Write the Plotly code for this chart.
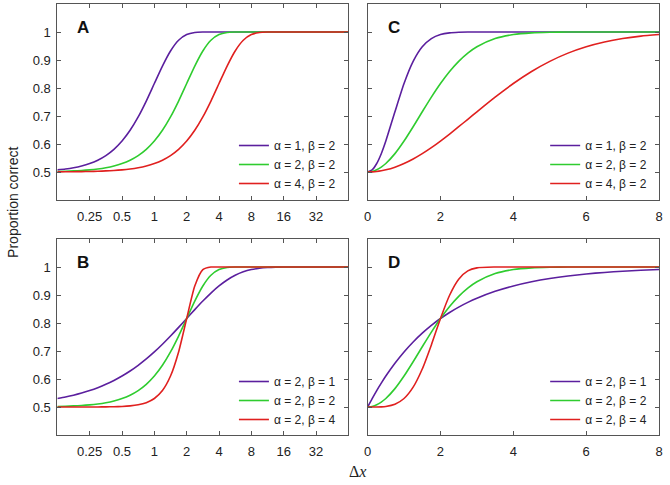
import plotly.graph_objects as go

# ---------------- data ----------------
# Log-scaled panels (A, B): x positions
x_log = [0.125, 0.14865, 0.17678, 0.21022, 0.25, 0.2973, 0.35355, 0.42045, 0.5, 0.5946,
         0.70711, 0.8409, 1.0, 1.18921, 1.41421, 1.68179, 2.0, 2.37841, 2.82843, 3.36359,
         4.0, 4.75683, 5.65685, 6.72717, 8.0, 9.51366, 11.3137, 13.4543, 16.0, 32.0, 64.0]

# Panel A
a_a1b2 = [0.50775, 0.51093, 0.51538, 0.52162, 0.5303, 0.5423, 0.55875, 0.58102, 0.6106,
          0.6489, 0.69673, 0.75347, 0.81606, 0.87844, 0.93233, 0.97044, 0.99084, 0.99825,
          0.99983, 1.0, 1.0, 1.0, 1.0, 1.0, 1.0, 1.0, 1.0, 1.0, 1.0, 1.0, 1.0]
a_a2b2 = [0.50195, 0.50275, 0.50389, 0.5055, 0.50775, 0.51093, 0.51538, 0.52162, 0.5303,
          0.5423, 0.55875, 0.58102, 0.6106, 0.6489, 0.69673, 0.75347, 0.81606, 0.87844,
          0.93233, 0.97044, 0.99084, 0.99825, 0.99983, 1.0, 1.0, 1.0, 1.0, 1.0, 1.0, 1.0, 1.0]
a_a4b2 = [0.50049, 0.50069, 0.50098, 0.50138, 0.50195, 0.50275, 0.50389, 0.5055, 0.50775,
          0.51093, 0.51538, 0.52162, 0.5303, 0.5423, 0.55875, 0.58102, 0.6106, 0.6489,
          0.69673, 0.75347, 0.81606, 0.87844, 0.93233, 0.97044, 0.99084, 0.99825, 0.99983,
          1.0, 1.0, 1.0, 1.0]

# Panel B
b_a2b1 = [0.5303, 0.53581, 0.5423, 0.54989, 0.55875, 0.56906, 0.58102, 0.59481, 0.6106,
          0.62858, 0.6489, 0.67162, 0.69673, 0.72412, 0.75347, 0.78434, 0.81606, 0.84777,
          0.87844, 0.90698, 0.93233, 0.95365, 0.97044, 0.9827, 0.99084, 0.99571, 0.99825,
          0.9994, 0.99983, 1.0, 1.0]
b_a2b2 = a_a2b2
b_a2b4 = [0.50001, 0.50002, 0.50003, 0.50006, 0.50012, 0.50024, 0.50049, 0.50098, 0.50195,
          0.50389, 0.50775, 0.51538, 0.5303, 0.55875, 0.6106, 0.69673, 0.81606, 0.93233,
          0.99084, 0.99983, 1.0, 1.0, 1.0, 1.0, 1.0, 1.0, 1.0, 1.0, 1.0, 1.0, 1.0]

# Linear panels (C, D): x positions
x_lin = [0, 0.125, 0.25, 0.375, 0.5, 0.75, 1, 1.25, 1.5, 1.75, 2, 2.25, 2.5, 2.75, 3,
         3.5, 4, 4.5, 5, 5.5, 6, 6.5, 7, 7.5, 8]

# Panel C
c_a1b2 = [0.5, 0.5078, 0.5303, 0.5654, 0.6106, 0.71511, 0.81606, 0.8952, 0.9473, 0.97661,
          0.99084, 0.99684, 0.99903, 0.99974, 0.99994, 1.0, 1.0, 1.0, 1.0, 1.0, 1.0, 1.0,
          1.0, 1.0, 1.0]
c_a2b2 = [0.5, 0.50195, 0.50775, 0.51738, 0.5303, 0.56559, 0.6106, 0.66169, 0.71511,
          0.76748, 0.81606, 0.85897, 0.8952, 0.92452, 0.9473, 0.97661, 0.99084, 0.99684,
          0.99903, 0.99974, 0.99994, 1.0, 1.0, 1.0, 1.0]
c_a4b2 = [0.5, 0.50049, 0.50195, 0.50439, 0.50775, 0.51727, 0.5303, 0.54652, 0.56559,
          0.5871, 0.6106, 0.63561, 0.66169, 0.68833, 0.71511, 0.76748, 0.81606, 0.85897,
          0.8952, 0.92452, 0.9473, 0.96435, 0.97661, 0.98513, 0.99084]

# Panel D
d_a2b1 = [0.5, 0.5303, 0.55875, 0.58526, 0.6106, 0.65635, 0.69673, 0.73237, 0.76382,
          0.79157, 0.81606, 0.83768, 0.85675, 0.87358, 0.88843, 0.91311, 0.93233, 0.9473,
          0.95896, 0.96804, 0.97511, 0.98061, 0.9849, 0.98824, 0.99084]
d_a2b2 = c_a2b2
d_a2b4 = [0.5, 0.5, 0.50012, 0.50062, 0.50195, 0.50979, 0.5303, 0.57076, 0.63561,
          0.72177, 0.81606, 0.89923, 0.95649, 0.98599, 0.99684, 0.99996, 1.0, 1.0, 1.0,
          1.0, 1.0, 1.0, 1.0, 1.0, 1.0]

log_tickvals = [0.25, 0.5, 1, 2, 4, 8, 16, 32]
log_ticktext = ["0.25", "0.5", "1", "2", "4", "8", "16", "32"]
lin_tickvals = [0, 2, 4, 6, 8]
y_tickvals = [0.5, 0.6, 0.7, 0.8, 0.9, 1.0]
y_ticktext = ["0.5", "0.6", "0.7", "0.8", "0.9", "1"]

names_top = ["α = 1, β = 2", "α = 2, β = 2", "α = 4, β = 2"]
names_bot = ["α = 2, β = 1", "α = 2, β = 2", "α = 2, β = 4"]
panel_letters = ["A", "C", "B", "D"]

# ---------------- styling ----------------
W, H = 670, 485
PURPLE, GREEN, RED = "#5b1f9e", "#2fcc2f", "#e0201f"
colors = [PURPLE, GREEN, RED]
FRAME = "#555555"
FONT = "Liberation Sans, Arial, Helvetica, sans-serif"

def px_x(p):
    return p / W

def px_y(p):
    return 1 - p / H

xdom_left = [px_x(54), px_x(348.5)]
xdom_right = [px_x(368), px_x(663)]
ydom_top = [px_y(200), px_y(4)]
ydom_bot = [px_y(435), px_y(239)]

fig = go.Figure()

panels = [
    ("x", "y", x_log, [a_a1b2, a_a2b2, a_a4b2], names_top, "legend"),
    ("x2", "y2", x_lin, [c_a1b2, c_a2b2, c_a4b2], names_top, "legend2"),
    ("x3", "y3", x_log, [b_a2b1, b_a2b2, b_a2b4], names_bot, "legend3"),
    ("x4", "y4", x_lin, [d_a2b1, d_a2b2, d_a2b4], names_bot, "legend4"),
]

for xa, ya, xs, series, names, lg in panels:
    for ys, nm, col in zip(series, names, colors):
        fig.add_trace(go.Scatter(
            x=xs, y=ys, mode="lines", name=nm,
            line=dict(color=col, width=1.6, shape="spline", smoothing=0.6),
            xaxis=xa, yaxis=ya, legend=lg, showlegend=True,
        ))

axis_common = dict(
    showline=True, linecolor=FRAME, linewidth=1, mirror="allticks",
    ticks="inside", ticklen=4, tickcolor=FRAME, tickwidth=1,
    showgrid=False, zeroline=False,
    tickfont=dict(family=FONT, size=13, color="#222222"),
)

layout = dict(
    width=W, height=H,
    margin=dict(l=0, r=0, t=0, b=0),
    paper_bgcolor="white", plot_bgcolor="white",
    font=dict(family=FONT, size=13, color="#222222"),
)

layout["xaxis"] = dict(axis_common, domain=xdom_left, anchor="y", type="log",
                       range=[-0.90309, 1.80618], tickvals=log_tickvals, ticktext=log_ticktext,
                       ticklabelstandoff=4)
layout["xaxis2"] = dict(axis_common, domain=xdom_right, anchor="y2",
                        range=[0, 8], tickvals=lin_tickvals, ticklabelstandoff=4)
layout["xaxis3"] = dict(axis_common, domain=xdom_left, anchor="y3", type="log",
                        range=[-0.90309, 1.80618], tickvals=log_tickvals, ticktext=log_ticktext,
                        ticklabelstandoff=4)
layout["xaxis4"] = dict(axis_common, domain=xdom_right, anchor="y4",
                        range=[0, 8], tickvals=lin_tickvals, ticklabelstandoff=4)
layout["yaxis"] = dict(axis_common, domain=ydom_top, anchor="x", range=[0.4, 1.1],
                       tickvals=y_tickvals, ticktext=y_ticktext, ticklabelstandoff=3)
layout["yaxis2"] = dict(axis_common, domain=ydom_top, anchor="x2", range=[0.4, 1.1],
                        tickvals=y_tickvals, showticklabels=False)
layout["yaxis3"] = dict(axis_common, domain=ydom_bot, anchor="x3", range=[0.4, 1.1],
                        tickvals=y_tickvals, ticktext=y_ticktext, ticklabelstandoff=3)
layout["yaxis4"] = dict(axis_common, domain=ydom_bot, anchor="x4", range=[0.4, 1.1],
                        tickvals=y_tickvals, showticklabels=False)

legend_common = dict(
    bgcolor="rgba(0,0,0,0)", borderwidth=0,
    font=dict(family=FONT, size=12, color="#222222"),
    xanchor="right", yanchor="top", tracegroupgap=0,
)
layout["legend"] = dict(legend_common, x=px_x(341), y=px_y(131))
layout["legend2"] = dict(legend_common, x=px_x(656), y=px_y(131))
layout["legend3"] = dict(legend_common, x=px_x(341), y=px_y(367))
layout["legend4"] = dict(legend_common, x=px_x(656), y=px_y(367))

fig.update_layout(**layout)

letter_pos = [("x", "y"), ("x2", "y2"), ("x3", "y3"), ("x4", "y4")]
for (xa, ya), letter in zip(letter_pos, panel_letters):
    fig.add_annotation(
        text="<b>%s</b>" % letter, xref="%s domain" % xa, yref="%s domain" % ya,
        x=0.062, y=0.88, xanchor="left", yanchor="middle", showarrow=False,
        font=dict(family=FONT, size=17, color="#111111"),
    )

fig.add_annotation(
    text="Proportion correct", xref="paper", yref="paper",
    x=px_x(9), y=px_y(202), textangle=-90, showarrow=False,
    xanchor="center", yanchor="middle",
    font=dict(family=FONT, size=14, color="#222222"),
)
fig.add_annotation(
    text="Δ<i>x</i>", xref="paper", yref="paper",
    x=px_x(358), y=px_y(471), showarrow=False,
    xanchor="center", yanchor="middle",
    font=dict(family="Liberation Serif, Times New Roman, serif", size=16, color="#222222"),
)

fig.write_html(
    "out.html",
    config={"displayModeBar": False},
    post_script="document.body.style.margin='0';document.body.style.padding='0';",
)
